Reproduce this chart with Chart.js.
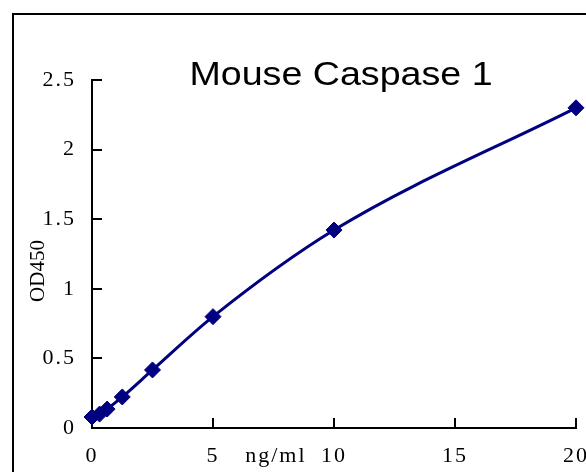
<!DOCTYPE html>
<html>
<head>
<meta charset="utf-8">
<script src="https://cdn.jsdelivr.net/npm/chart.js@4"></script>
<style>
  html, body { margin: 0; padding: 0; background: #fff; }
  #wrap { width: 586px; height: 472px; }
</style>
</head>
<body>
<div id="wrap"><canvas id="curve" width="586" height="472"></canvas></div>
<script>
// standard curve
const concentrations = [0, 0.3125, 0.625, 1.25, 2.5, 5, 10, 20];
const od450 = [0.079, 0.10, 0.136, 0.223, 0.417, 0.80, 1.422, 2.30];
const xTicks = [0, 5, 10, 15, 20];
const yTicks = [0, 0.5, 1, 1.5, 2, 2.5];

const titleText = 'Mouse Caspase 1';
const xLabel = 'ng/ml';
const yLabel = 'OD450';

const navy = '#000080';
const tickFont = { family: 'Liberation Serif', size: 22 };

// frame, title and axis names drawn by hand
const extras = {
  id: 'extras',
  beforeDraw(chart) {
    const c = chart.ctx;
    c.save();
    c.fillStyle = '#fff';
    c.fillRect(0, 0, chart.width, chart.height);
    c.strokeStyle = '#000';
    c.lineWidth = 2;
    c.strokeRect(13, 14, 700, 600);
    c.restore();
    // wide spacing like the original's tick font (chart.js leaves this alone)
    c.letterSpacing = '2px';
  },
  afterDraw(chart) {
    const c = chart.ctx;
    const xs = chart.scales.x;
    const area = chart.chartArea;
    c.save();
    c.fillStyle = '#000';
    c.font = '22px "Liberation Serif", serif';
    c.textAlign = 'center';
    c.textBaseline = 'middle';
    c.fillText(xLabel, xs.getPixelForValue(7.6), area.bottom + 28);

    c.letterSpacing = '0px';
    // title looks a bit stretched sideways in the original
    c.save();
    c.translate(area.left + 249, area.top + 5);
    c.scale(1.14, 1);
    c.font = '33px "Liberation Sans", Arial, sans-serif';
    c.textBaseline = 'alphabetic';
    c.fillText(titleText, 0, 0);
    c.restore();

    c.font = '21px "Liberation Serif", serif';
    c.translate(38, 271);
    c.rotate(-Math.PI / 2);
    c.fillText(yLabel, 0, 0);
    c.restore();
  }
};

new Chart(document.getElementById('curve'), {
  type: 'line',
  data: {
    datasets: [{
      data: concentrations.map((x, i) => ({ x: x, y: od450[i] })),
      borderColor: navy,
      backgroundColor: navy,
      borderWidth: 3,
      cubicInterpolationMode: 'monotone',
      pointStyle: 'rectRot',
      pointRadius: 8,
      pointBorderWidth: 1,
      pointBackgroundColor: navy,
      pointBorderColor: navy,
      clip: false
    }]
  },
  options: {
    responsive: false,
    devicePixelRatio: 1,
    animation: false,
    events: [],
    layout: { padding: { top: 80, right: 10, left: 0, bottom: 0 } },
    plugins: { legend: { display: false }, tooltip: { enabled: false } },
    scales: {
      x: {
        type: 'linear',
        min: 0,
        max: 20,
        afterFit(s) { s.height = 44; s.paddingLeft = 0; s.paddingRight = 0; },
        afterBuildTicks(s) { s.ticks = xTicks.map(v => ({ value: v })); },
        grid: { drawOnChartArea: false, tickLength: -10, lineWidth: 2, color: '#000' },
        border: { color: '#000', width: 2 },
        ticks: { color: '#000', font: tickFont, padding: 25, maxRotation: 0, callback: v => String(v) }
      },
      y: {
        min: 0,
        max: 2.5,
        afterFit(s) { s.width = 92; s.paddingTop = 0; s.paddingBottom = 0; },
        afterBuildTicks(s) { s.ticks = yTicks.map(v => ({ value: v })); },
        grid: { drawOnChartArea: false, tickLength: -10, lineWidth: 2, color: '#000' },
        border: { color: '#000', width: 2 },
        ticks: { color: '#000', font: tickFont, padding: 26, callback: v => String(v) }
      }
    }
  },
  plugins: [extras]
});
</script>
</body>
</html>
